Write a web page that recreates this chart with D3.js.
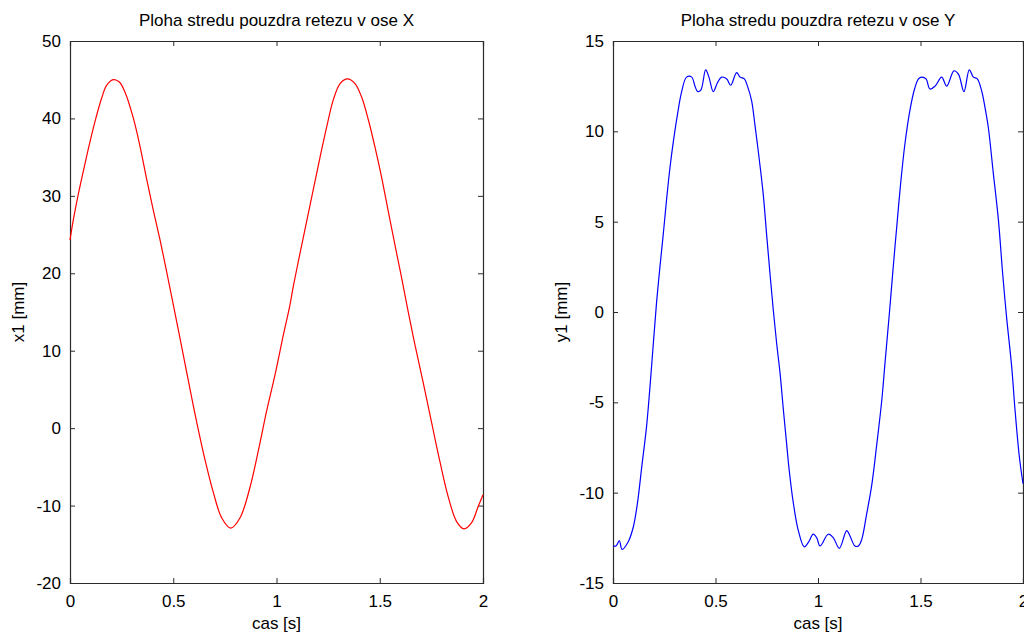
<!DOCTYPE html>
<html>
<head>
<meta charset="utf-8">
<script src="https://cdn.jsdelivr.net/npm/d3@7"></script>
<style>
  body { margin: 0; background: #fff; }
  text { font-family: "Liberation Sans", Arial, sans-serif; }
</style>
</head>
<body>
<script>
var width = 1024;
var height = 635;

// x1 - poloha v ose X
var timeX = [0.000, 0.016, 0.040, 0.073, 0.097, 0.126, 0.153, 0.178, 0.210, 0.239,
    0.266, 0.307, 0.339, 0.371, 0.403, 0.436, 0.468, 0.496, 0.549, 0.597,
    0.646, 0.694, 0.735, 0.778, 0.823, 0.872, 0.920, 0.952, 0.993, 1.033,
    1.065, 1.082, 1.114, 1.146, 1.178, 1.211, 1.243, 1.275, 1.308, 1.343,
    1.380, 1.413, 1.445, 1.477, 1.509, 1.542, 1.574, 1.606, 1.635, 1.671,
    1.711, 1.752, 1.792, 1.832, 1.873, 1.908, 1.945, 1.977, 2.000];
var x1Values = [24.3, 26.9, 30.2, 34.2, 37.0, 40.1, 42.6, 44.3, 45.0, 44.7,
    43.4, 40.0, 36.4, 32.2, 28.2, 24.3, 20.2, 16.5, 9.4, 2.9,
    -3.2, -8.3, -11.6, -12.9, -11.6, -7.6, -1.9, 2.2, 6.9, 12.0,
    15.9, 18.4, 22.6, 26.7, 30.8, 35.0, 38.9, 42.4, 44.5, 45.1,
    44.5, 42.7, 39.8, 36.3, 32.4, 27.9, 23.6, 19.4, 15.4, 10.7,
    5.8, 0.6, -4.4, -8.9, -12.1, -13.0, -12.2, -10.1, -8.6];

// y1 - poloha v ose Y
var timeY = [0.000, 0.015, 0.031, 0.044, 0.075, 0.099, 0.119, 0.140, 0.164, 0.180,
    0.197, 0.213, 0.229, 0.246, 0.262, 0.278, 0.294, 0.314, 0.335, 0.359,
    0.384, 0.400, 0.413, 0.429, 0.452, 0.468, 0.489, 0.510, 0.530, 0.555,
    0.574, 0.603, 0.620, 0.641, 0.656, 0.676, 0.693, 0.714, 0.733, 0.750,
    0.766, 0.782, 0.798, 0.815, 0.831, 0.847, 0.860, 0.880, 0.904, 0.933,
    0.953, 0.977, 0.994, 1.010, 1.050, 1.075, 1.104, 1.140, 1.156, 1.180,
    1.197, 1.213, 1.237, 1.262, 1.286, 1.311, 1.327, 1.348, 1.367, 1.384,
    1.403, 1.424, 1.449, 1.470, 1.490, 1.506, 1.527, 1.546, 1.571, 1.603,
    1.628, 1.663, 1.685, 1.712, 1.738, 1.758, 1.777, 1.798, 1.815, 1.831,
    1.855, 1.880, 1.901, 1.920, 1.945, 1.961, 1.982, 2.000];
var y1Values = [-12.95, -12.95, -12.66, -13.14, -12.7, -11.9, -10.6, -8.6, -6.3, -4.2,
    -1.7, 0.6, 2.5, 4.4, 6.3, 8.0, 9.4, 10.9, 12.2, 13.0,
    13.0, 12.5, 12.2, 12.3, 13.4, 13.0, 12.2, 12.7, 13.0, 12.9,
    12.55, 13.25, 13.0, 12.9, 12.5, 11.7, 10.3, 8.4, 6.5, 4.2,
    2.1, 0.1, -1.7, -3.4, -5.4, -7.3, -8.8, -10.6, -12.1, -13.0,
    -12.75, -12.3, -12.5, -12.95, -12.3, -12.5, -13.08, -12.1, -12.4, -12.95,
    -12.95, -12.6, -11.2, -9.6, -7.4, -4.9, -2.8, -0.1, 2.5, 4.7,
    7.1, 9.3, 11.2, 12.3, 12.9, 13.0, 12.9, 12.34, 12.5, 13.0,
    12.5, 13.35, 13.17, 12.2, 13.4, 13.0, 12.9, 12.25, 11.3, 10.2,
    7.7, 5.1, 2.1, -0.3, -3.05, -5.4, -8.0, -9.5];

var timeTicks = [0, 0.5, 1, 1.5, 2];
var x1Ticks = [-20, -10, 0, 10, 20, 30, 40, 50];
var y1Ticks = [-15, -10, -5, 0, 5, 10, 15];

var svg = d3.select('body')
    .append('svg')
    .attr('width', width)
    .attr('height', height);

// matlab style labels: plain hyphen as minus sign
var plainFormat = function(d) { return String(d); };

function drawPlot(opts) {
    var x = d3.scaleLinear().domain([0, 2]).range([opts.left, opts.right]);
    var y = d3.scaleLinear().domain(opts.yDomain).range([583, 41]);
    var g = svg.append('g');

    // ticks inside the box, on all four sides
    g.append('g')
        .attr('transform', 'translate(0,583)')
        .call(d3.axisBottom(x).tickValues(timeTicks).tickSize(-5).tickPadding(12).tickFormat(plainFormat));
    g.append('g')
        .attr('transform', 'translate(0,41)')
        .call(d3.axisTop(x).tickValues(timeTicks).tickSize(-5).tickFormat(''));
    g.append('g')
        .attr('transform', 'translate(' + opts.left + ',0)')
        .call(d3.axisLeft(y).tickValues(opts.yTicks).tickSize(-5).tickPadding(9).tickFormat(plainFormat));
    g.append('g')
        .attr('transform', 'translate(' + opts.right + ',0)')
        .call(d3.axisRight(y).tickValues(opts.yTicks).tickSize(-5).tickFormat(''));

    g.selectAll('.domain').attr('stroke', '#2b2b2b').attr('stroke-width', 1.2);
    g.selectAll('.tick line').attr('stroke', '#2b2b2b');
    g.selectAll('.tick text')
        .attr('fill', '#000')
        .style('font-size', '17px')
        .style('font-family', '"Liberation Sans", Arial, sans-serif');

    var line = d3.line()
        .x(function(d) { return x(d[0]); })
        .y(function(d) { return y(d[1]); })
        .curve(d3.curveCatmullRom.alpha(0.5));

    g.append('path')
        .datum(d3.zip(opts.t, opts.v))
        .attr('fill', 'none')
        .attr('stroke', opts.color)
        .attr('stroke-width', 1.2)
        .attr('d', line);

    var cx = (opts.left + opts.right) / 2;
    g.append('text')
        .attr('x', cx)
        .attr('y', 26)
        .attr('text-anchor', 'middle')
        .style('font-size', '17px')
        .text(opts.title);
    g.append('text')
        .attr('x', cx)
        .attr('y', 629)
        .attr('text-anchor', 'middle')
        .style('font-size', '17px')
        .text('cas [s]');
    g.append('text')
        .attr('transform', 'translate(' + (opts.left - 46) + ',312) rotate(-90)')
        .attr('text-anchor', 'middle')
        .style('font-size', '17px')
        .text(opts.yLabel);
}

drawPlot({
    left: 70, right: 483,
    yDomain: [-20, 50], yTicks: x1Ticks,
    t: timeX, v: x1Values, color: '#ff0000',
    title: 'Ploha stredu pouzdra retezu v ose X', yLabel: 'x1 [mm]'
});

drawPlot({
    left: 613, right: 1023,
    yDomain: [-15, 15], yTicks: y1Ticks,
    t: timeY, v: y1Values, color: '#0000ff',
    title: 'Ploha stredu pouzdra retezu v ose Y', yLabel: 'y1 [mm]'
});
</script>
</body>
</html>
